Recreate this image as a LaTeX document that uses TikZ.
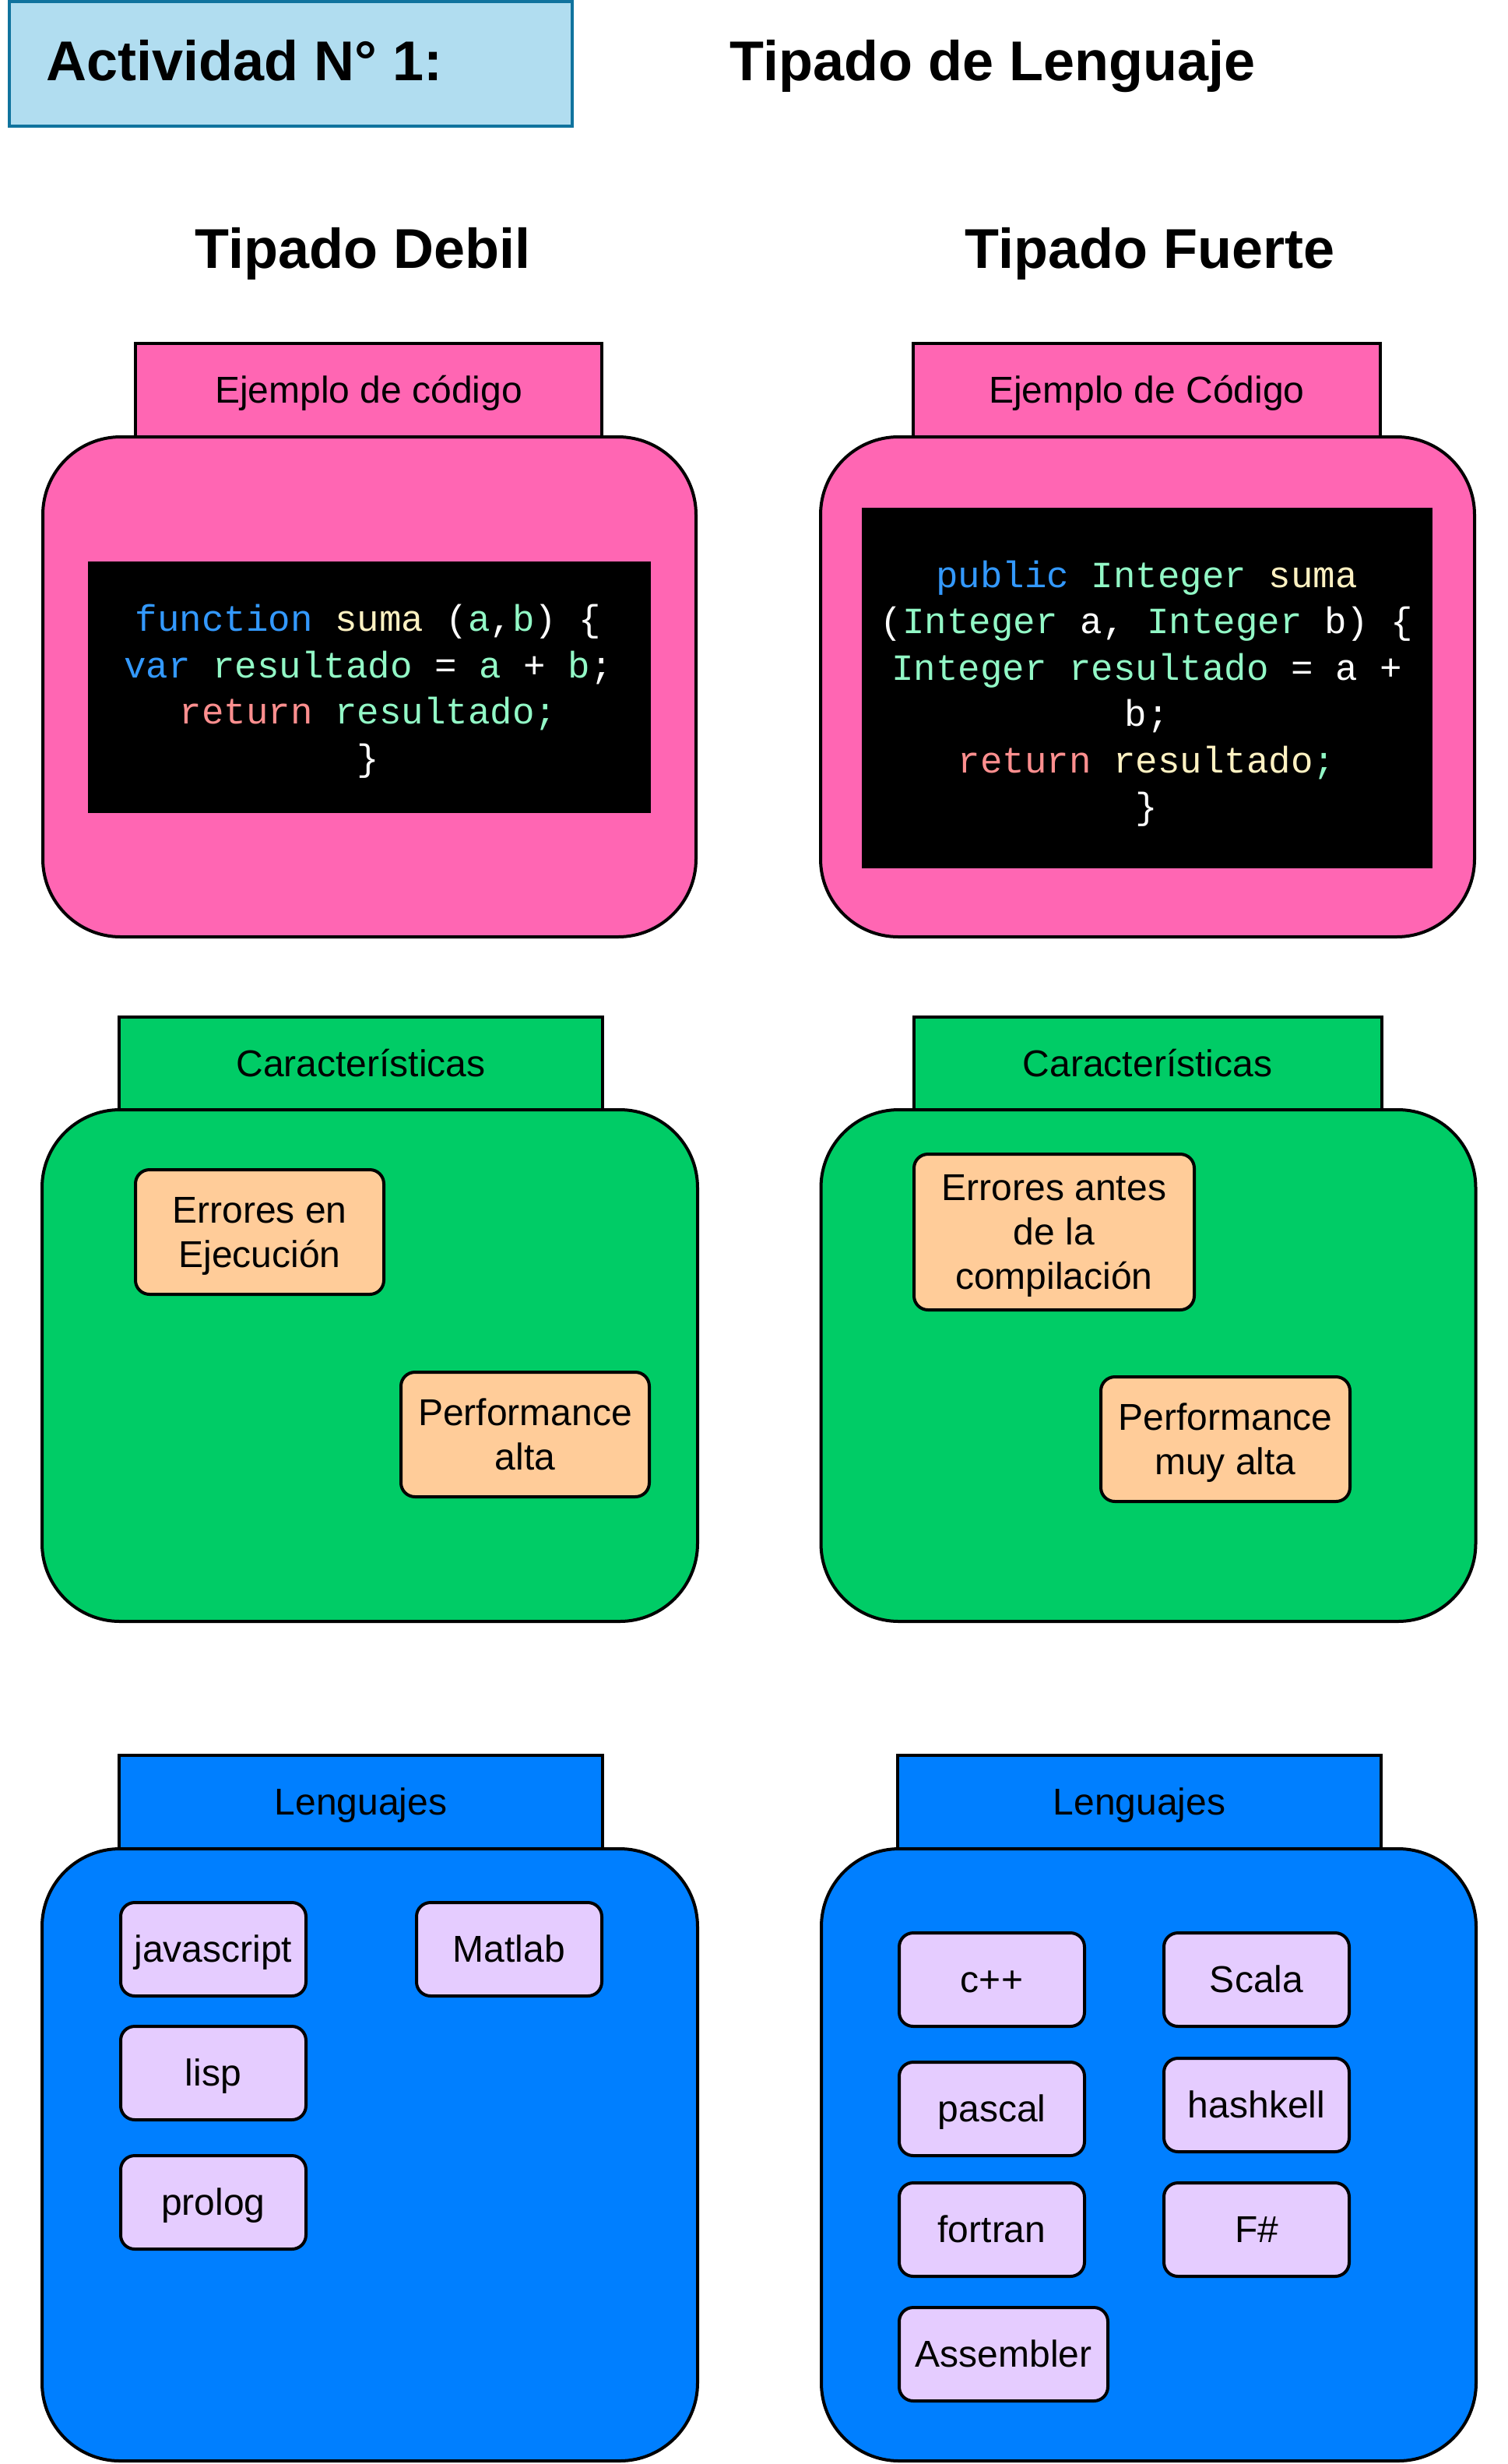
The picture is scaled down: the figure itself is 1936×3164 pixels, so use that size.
\documentclass[tikz,border=0pt]{standalone}
\usepackage{fontspec}
\setmainfont{Liberation Sans}
\newfontfamily\codefont{Liberation Mono}
\definecolor{hdrfill}{HTML}{B1DDF0}
\definecolor{hdrline}{HTML}{10739E}
\definecolor{pinkc}{HTML}{FF66B3}
\definecolor{greenc}{HTML}{00CC66}
\definecolor{bluec}{HTML}{007FFF}
\definecolor{orangec}{HTML}{FFCC99}
\definecolor{lavc}{HTML}{E5CCFF}
\definecolor{cblue}{HTML}{3399FF}
\definecolor{cgreen}{HTML}{92F8C6}
\definecolor{cyel}{HTML}{FFF2C2}
\definecolor{cred}{HTML}{FF8F8F}
\newcommand\zstr{\rule[-0.212em]{0pt}{1.117em}}
\newcommand\cstr{\rule[-0.25em]{0pt}{0.95em}}
\begin{document}
\begin{tikzpicture}[x=1pt,y=-1pt,
  every node/.style={inner sep=0pt, outer sep=0pt},
  titletext/.style={anchor=base, font=\fontsize{72}{86}\selectfont\bfseries},
  tabbox/.style={draw=black, line width=4pt, minimum height=120pt, align=center, font=\fontsize{48}{57}\selectfont},
  jarbody/.style={draw=black, line width=4pt, rounded corners=100pt},
  itembox/.style={draw=black, line width=4pt, rounded corners=18pt, align=center, font=\fontsize{48}{57}\selectfont},
  orangebox/.style={itembox, fill=orangec},
  lavbox/.style={itembox, fill=lavc, minimum width=238pt, minimum height=120pt},
  codebox/.style={fill=black},
  codetext/.style={text=white, align=center, font=\codefont\fontsize{47.5}{59.5}\selectfont}
]
\useasboundingbox (0,0) rectangle (1936,3164);

% header
\node (hdr) [draw=hdrline, fill=hdrfill, line width=4pt, minimum width=723pt, minimum height=160pt] at (373.5,82) {};
\node (hdrtxt) [titletext] at (314,103) {Actividad N° 1:};
\node (maintitle) [titletext] at (1275,103) {Tipado de Lenguaje};
\node (tdebil) [titletext] at (466,344) {Tipado Debil};
\node (tfuerte) [titletext] at (1477,344) {Tipado Fuerte};

% pink section
\node (ptabL) [tabbox, fill=pinkc, minimum width=599pt] at (473.5,501) {\zstr Ejemplo de código};
\node (ptabR) [tabbox, fill=pinkc, minimum width=600pt] at (1473,501) {\zstr Ejemplo de Código};
\node (pbodyL) [jarbody, fill=pinkc, minimum width=839pt, minimum height=642pt] at (474.5,882) {};
\node (pbodyR) [jarbody, fill=pinkc, minimum width=840pt, minimum height=642pt] at (1474,882) {};
\node (codeL) [codebox, minimum width=723pt, minimum height=323pt] at (474.5,882.5) {};
\node (codetxtL) [codetext] at (473,888.5) {%
\cstr{\color{cblue}function} {\color{cyel}suma} ({\color{cgreen}a},{\color{cgreen}b}) \{\\
\cstr{\color{cblue}var} {\color{cgreen}resultado} = {\color{cgreen}a} + {\color{cgreen}b};\\
\cstr{\color{cred}return} {\color{cgreen}resultado;}\\
\cstr\}};
\node (codeR) [codebox, minimum width=733pt, minimum height=463pt] at (1473.5,883.5) {};
\node (codetxtR) [codetext] at (1473,891.5) {%
\cstr{\color{cblue}public} {\color{cgreen}Integer} {\color{cyel}suma}\\
\cstr({\color{cgreen}Integer} a, {\color{cgreen}Integer} b) \{\\
\cstr{\color{cgreen}Integer resultado} = a +\\
\cstr b;\\
\cstr{\color{cred}return} {\color{cyel}resultado}{\color{cgreen};}\\
\cstr\}};

% green section
\node (gtabL) [tabbox, fill=greenc, minimum width=621pt, minimum height=119pt] at (463.5,1365.5) {\zstr Características};
\node (gtabR) [tabbox, fill=greenc, minimum width=601pt, minimum height=119pt] at (1474,1365.5) {\zstr Características};
\node (gbodyL) [jarbody, fill=greenc, minimum width=842pt, minimum height=657pt] at (475,1753.5) {};
\node (gbodyR) [jarbody, fill=greenc, minimum width=841pt, minimum height=657pt] at (1475,1753.5) {};
\node (err1) [orangebox, minimum width=319pt, minimum height=160pt] at (333.5,1582) {\zstr Errores en\\\zstr Ejecución};
\node (perf1) [orangebox, minimum width=319pt, minimum height=160pt] at (674.5,1842) {\zstr Performance\\\zstr alta};
\node (err2) [orangebox, minimum width=360pt, minimum height=200pt] at (1354,1582) {\zstr Errores antes\\\zstr de la\\\zstr compilación};
\node (perf2) [orangebox, minimum width=320pt, minimum height=160pt] at (1574,1848) {\zstr Performance\\\zstr muy alta};

% blue section
\node (btabL) [tabbox, fill=bluec, minimum width=621pt] at (463.5,2314) {\zstr Lenguajes};
\node (btabR) [tabbox, fill=bluec, minimum width=621pt] at (1463.5,2314) {\zstr Lenguajes};
\node (bbodyL) [jarbody, fill=bluec, minimum width=842pt, minimum height=786pt] at (475,2767) {};
\node (bbodyR) [jarbody, fill=bluec, minimum width=841pt, minimum height=786pt] at (1475.5,2767) {};
\node (js) [lavbox] at (274,2503) {\zstr javascript};
\node (matlab) [lavbox] at (654,2503) {\zstr Matlab};
\node (lisp) [lavbox] at (274,2662) {\zstr lisp};
\node (prolog) [lavbox] at (274,2828) {\zstr prolog};
\node (cpp) [lavbox] at (1274,2542) {\zstr c++};
\node (scala) [lavbox] at (1614,2542) {\zstr Scala};
\node (pascal) [lavbox] at (1274,2708) {\zstr pascal};
\node (hashkell) [lavbox] at (1614,2703) {\zstr hashkell};
\node (fortran) [lavbox] at (1274,2863) {\zstr fortran};
\node (fsharp) [lavbox] at (1614,2863) {\zstr F\#};
\node (asm) [lavbox, minimum width=268pt] at (1289,3023) {\zstr Assembler};
\end{tikzpicture}
\end{document}
